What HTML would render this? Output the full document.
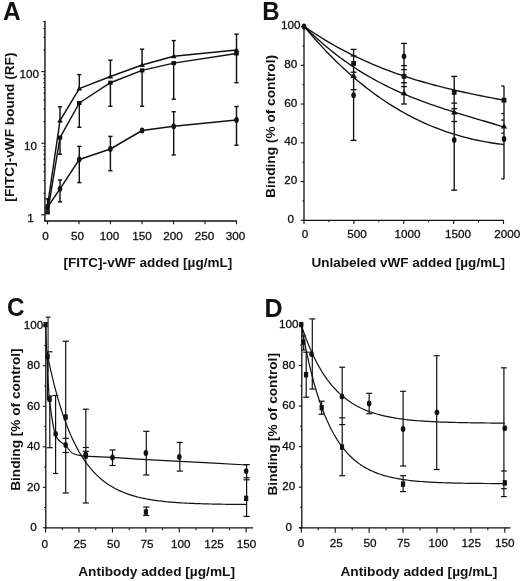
<!DOCTYPE html>
<html><head><meta charset="utf-8"><style>
html,body{margin:0;padding:0;background:#fff;}
svg{display:block;will-change:transform;}
text{font-family:"Liberation Sans",sans-serif;fill:#111;}
</style></head><body>
<svg width="520" height="581" viewBox="0 0 520 581">
<rect width="520" height="581" fill="#fff"/>
<text x="2.89" y="19.60" font-size="25" font-weight="bold" textLength="17.65" lengthAdjust="spacingAndGlyphs">A</text>
<line x1="44.95" y1="20.80" x2="44.95" y2="221.60" stroke="#3a3a3a" stroke-width="1.7"/>
<line x1="44.15" y1="220.90" x2="236.90" y2="220.90" stroke="#111" stroke-width="1.5"/>
<line x1="41.25" y1="214.80" x2="44.95" y2="214.80" stroke="#111" stroke-width="1.1"/>
<line x1="43.35" y1="193.25" x2="44.95" y2="193.25" stroke="#111" stroke-width="1.0"/>
<line x1="43.35" y1="180.64" x2="44.95" y2="180.64" stroke="#111" stroke-width="1.0"/>
<line x1="43.35" y1="171.69" x2="44.95" y2="171.69" stroke="#111" stroke-width="1.0"/>
<line x1="43.35" y1="164.75" x2="44.95" y2="164.75" stroke="#111" stroke-width="1.0"/>
<line x1="43.35" y1="159.08" x2="44.95" y2="159.08" stroke="#111" stroke-width="1.0"/>
<line x1="43.35" y1="154.29" x2="44.95" y2="154.29" stroke="#111" stroke-width="1.0"/>
<line x1="43.35" y1="150.14" x2="44.95" y2="150.14" stroke="#111" stroke-width="1.0"/>
<line x1="43.35" y1="146.48" x2="44.95" y2="146.48" stroke="#111" stroke-width="1.0"/>
<line x1="41.25" y1="143.20" x2="44.95" y2="143.20" stroke="#111" stroke-width="1.1"/>
<line x1="43.35" y1="121.65" x2="44.95" y2="121.65" stroke="#111" stroke-width="1.0"/>
<line x1="43.35" y1="109.04" x2="44.95" y2="109.04" stroke="#111" stroke-width="1.0"/>
<line x1="43.35" y1="100.09" x2="44.95" y2="100.09" stroke="#111" stroke-width="1.0"/>
<line x1="43.35" y1="93.15" x2="44.95" y2="93.15" stroke="#111" stroke-width="1.0"/>
<line x1="43.35" y1="87.48" x2="44.95" y2="87.48" stroke="#111" stroke-width="1.0"/>
<line x1="43.35" y1="82.69" x2="44.95" y2="82.69" stroke="#111" stroke-width="1.0"/>
<line x1="43.35" y1="78.54" x2="44.95" y2="78.54" stroke="#111" stroke-width="1.0"/>
<line x1="43.35" y1="74.88" x2="44.95" y2="74.88" stroke="#111" stroke-width="1.0"/>
<line x1="41.25" y1="71.60" x2="44.95" y2="71.60" stroke="#111" stroke-width="1.1"/>
<line x1="43.35" y1="50.05" x2="44.95" y2="50.05" stroke="#111" stroke-width="1.0"/>
<line x1="43.35" y1="37.44" x2="44.95" y2="37.44" stroke="#111" stroke-width="1.0"/>
<line x1="43.35" y1="28.49" x2="44.95" y2="28.49" stroke="#111" stroke-width="1.0"/>
<line x1="43.35" y1="21.55" x2="44.95" y2="21.55" stroke="#111" stroke-width="1.0"/>
<line x1="47.50" y1="220.90" x2="47.50" y2="224.30" stroke="#111" stroke-width="1.1"/>
<line x1="79.00" y1="220.90" x2="79.00" y2="224.30" stroke="#111" stroke-width="1.1"/>
<line x1="110.50" y1="220.90" x2="110.50" y2="224.30" stroke="#111" stroke-width="1.1"/>
<line x1="142.00" y1="220.90" x2="142.00" y2="224.30" stroke="#111" stroke-width="1.1"/>
<line x1="173.50" y1="220.90" x2="173.50" y2="224.30" stroke="#111" stroke-width="1.1"/>
<line x1="205.00" y1="220.90" x2="205.00" y2="224.30" stroke="#111" stroke-width="1.1"/>
<line x1="236.50" y1="220.90" x2="236.50" y2="224.30" stroke="#111" stroke-width="1.1"/>
<text x="29.30" y="77.80" font-size="11.7" font-weight="normal" text-anchor="middle" stroke="#111" stroke-width="0.3" >100</text>
<text x="30.40" y="149.50" font-size="11.7" font-weight="normal" text-anchor="middle" stroke="#111" stroke-width="0.3" >10</text>
<text x="30.60" y="221.50" font-size="11.7" font-weight="normal" text-anchor="middle" stroke="#111" stroke-width="0.3" >1</text>
<text x="45.40" y="239.80" font-size="11.7" font-weight="normal" text-anchor="middle" stroke="#111" stroke-width="0.3" >0</text>
<text x="77.50" y="239.80" font-size="11.7" font-weight="normal" text-anchor="middle" stroke="#111" stroke-width="0.3" >50</text>
<text x="109.60" y="239.80" font-size="11.7" font-weight="normal" text-anchor="middle" stroke="#111" stroke-width="0.3" >100</text>
<text x="141.90" y="239.80" font-size="11.7" font-weight="normal" text-anchor="middle" stroke="#111" stroke-width="0.3" >150</text>
<text x="173.10" y="239.80" font-size="11.7" font-weight="normal" text-anchor="middle" stroke="#111" stroke-width="0.3" >200</text>
<text x="204.40" y="239.80" font-size="11.7" font-weight="normal" text-anchor="middle" stroke="#111" stroke-width="0.3" >250</text>
<text x="235.60" y="239.80" font-size="11.7" font-weight="normal" text-anchor="middle" stroke="#111" stroke-width="0.3" >300</text>
<text x="63.54" y="267.40" font-size="13.5" font-weight="bold" textLength="168.72" lengthAdjust="spacingAndGlyphs">[FITC]-vWF added [µg/mL]</text>
<text x="0" y="0" font-size="13.5" font-weight="bold" textLength="149.15" lengthAdjust="spacingAndGlyphs" transform="translate(13.60,201.66) rotate(-90)">[FITC]-vWF bound (RF)</text>
<line x1="47.60" y1="198.80" x2="47.60" y2="209.50" stroke="#111" stroke-width="1.45"/>
<line x1="45.30" y1="198.80" x2="49.90" y2="198.80" stroke="#111" stroke-width="1.45"/>
<line x1="45.30" y1="209.50" x2="49.90" y2="209.50" stroke="#111" stroke-width="1.45"/>
<line x1="60.00" y1="106.80" x2="60.00" y2="121.00" stroke="#111" stroke-width="1.45"/>
<line x1="57.90" y1="106.80" x2="62.10" y2="106.80" stroke="#111" stroke-width="1.45"/>
<line x1="60.00" y1="137.70" x2="60.00" y2="154.20" stroke="#111" stroke-width="1.45"/>
<line x1="57.90" y1="154.20" x2="62.10" y2="154.20" stroke="#111" stroke-width="1.45"/>
<line x1="79.30" y1="74.60" x2="79.30" y2="88.70" stroke="#111" stroke-width="1.45"/>
<line x1="77.20" y1="74.60" x2="81.40" y2="74.60" stroke="#111" stroke-width="1.45"/>
<line x1="79.30" y1="103.00" x2="79.30" y2="127.30" stroke="#111" stroke-width="1.45"/>
<line x1="77.20" y1="127.30" x2="81.40" y2="127.30" stroke="#111" stroke-width="1.45"/>
<line x1="110.40" y1="60.20" x2="110.40" y2="76.50" stroke="#111" stroke-width="1.45"/>
<line x1="108.30" y1="60.20" x2="112.50" y2="60.20" stroke="#111" stroke-width="1.45"/>
<line x1="110.40" y1="82.70" x2="110.40" y2="106.30" stroke="#111" stroke-width="1.45"/>
<line x1="108.30" y1="106.30" x2="112.50" y2="106.30" stroke="#111" stroke-width="1.45"/>
<line x1="142.10" y1="49.20" x2="142.10" y2="65.00" stroke="#111" stroke-width="1.45"/>
<line x1="140.00" y1="49.20" x2="144.20" y2="49.20" stroke="#111" stroke-width="1.45"/>
<line x1="142.10" y1="70.40" x2="142.10" y2="106.30" stroke="#111" stroke-width="1.45"/>
<line x1="140.00" y1="106.30" x2="144.20" y2="106.30" stroke="#111" stroke-width="1.45"/>
<line x1="173.70" y1="40.60" x2="173.70" y2="56.30" stroke="#111" stroke-width="1.45"/>
<line x1="171.60" y1="40.60" x2="175.80" y2="40.60" stroke="#111" stroke-width="1.45"/>
<line x1="173.70" y1="63.10" x2="173.70" y2="99.20" stroke="#111" stroke-width="1.45"/>
<line x1="171.60" y1="99.20" x2="175.80" y2="99.20" stroke="#111" stroke-width="1.45"/>
<line x1="236.50" y1="34.20" x2="236.50" y2="50.00" stroke="#111" stroke-width="1.45"/>
<line x1="234.40" y1="34.20" x2="238.60" y2="34.20" stroke="#111" stroke-width="1.45"/>
<line x1="236.50" y1="53.50" x2="236.50" y2="82.70" stroke="#111" stroke-width="1.45"/>
<line x1="234.40" y1="82.70" x2="238.60" y2="82.70" stroke="#111" stroke-width="1.45"/>
<line x1="60.00" y1="180.00" x2="60.00" y2="201.90" stroke="#111" stroke-width="1.45"/>
<line x1="57.90" y1="180.00" x2="62.10" y2="180.00" stroke="#111" stroke-width="1.45"/>
<line x1="57.90" y1="201.90" x2="62.10" y2="201.90" stroke="#111" stroke-width="1.45"/>
<line x1="79.30" y1="146.30" x2="79.30" y2="182.60" stroke="#111" stroke-width="1.45"/>
<line x1="77.20" y1="146.30" x2="81.40" y2="146.30" stroke="#111" stroke-width="1.45"/>
<line x1="77.20" y1="182.60" x2="81.40" y2="182.60" stroke="#111" stroke-width="1.45"/>
<line x1="110.40" y1="136.40" x2="110.40" y2="170.70" stroke="#111" stroke-width="1.45"/>
<line x1="108.30" y1="136.40" x2="112.50" y2="136.40" stroke="#111" stroke-width="1.45"/>
<line x1="108.30" y1="170.70" x2="112.50" y2="170.70" stroke="#111" stroke-width="1.45"/>
<line x1="173.70" y1="111.75" x2="173.70" y2="155.00" stroke="#111" stroke-width="1.45"/>
<line x1="171.60" y1="111.75" x2="175.80" y2="111.75" stroke="#111" stroke-width="1.45"/>
<line x1="171.60" y1="155.00" x2="175.80" y2="155.00" stroke="#111" stroke-width="1.45"/>
<line x1="236.50" y1="106.50" x2="236.50" y2="145.25" stroke="#111" stroke-width="1.45"/>
<line x1="234.40" y1="106.50" x2="238.60" y2="106.50" stroke="#111" stroke-width="1.45"/>
<line x1="234.40" y1="145.25" x2="238.60" y2="145.25" stroke="#111" stroke-width="1.45"/>
<polyline points="47.60,205.40 60.00,120.70 79.30,88.70 110.40,76.50 142.10,65.00 173.70,56.30 236.50,50.00" fill="none" stroke="#111" stroke-width="1.45" stroke-linejoin="round"/>
<polyline points="47.60,212.40 60.00,137.60 79.30,103.00 110.40,82.70 142.10,70.40 173.70,63.10 236.50,53.50" fill="none" stroke="#111" stroke-width="1.45" stroke-linejoin="round"/>
<polyline points="47.60,207.00 60.00,188.80 79.30,159.50 110.40,149.00 142.10,130.50 173.70,126.30 236.50,120.00" fill="none" stroke="#111" stroke-width="1.45" stroke-linejoin="round"/>
<polygon points="47.60,202.54 50.40,207.30 44.80,207.30" fill="#111"/>
<polygon points="60.00,117.84 62.80,122.60 57.20,122.60" fill="#111"/>
<polygon points="79.30,85.84 82.10,90.60 76.50,90.60" fill="#111"/>
<polygon points="110.40,73.64 113.20,78.40 107.60,78.40" fill="#111"/>
<polygon points="142.10,62.14 144.90,66.90 139.30,66.90" fill="#111"/>
<polygon points="173.70,53.44 176.50,58.20 170.90,58.20" fill="#111"/>
<polygon points="236.50,47.14 239.30,51.90 233.70,51.90" fill="#111"/>
<rect x="45.35" y="210.35" width="4.5" height="4.1" fill="#111"/>
<rect x="57.75" y="135.55" width="4.5" height="4.1" fill="#111"/>
<rect x="77.05" y="100.95" width="4.5" height="4.1" fill="#111"/>
<rect x="108.15" y="80.65" width="4.5" height="4.1" fill="#111"/>
<rect x="139.85" y="68.35" width="4.5" height="4.1" fill="#111"/>
<rect x="171.45" y="61.05" width="4.5" height="4.1" fill="#111"/>
<rect x="234.25" y="51.45" width="4.5" height="4.1" fill="#111"/>
<ellipse cx="47.60" cy="207.00" rx="2.30" ry="2.90" fill="#111"/>
<ellipse cx="60.00" cy="188.80" rx="2.30" ry="2.90" fill="#111"/>
<ellipse cx="79.30" cy="159.50" rx="2.30" ry="2.90" fill="#111"/>
<ellipse cx="110.40" cy="149.00" rx="2.30" ry="2.90" fill="#111"/>
<ellipse cx="142.10" cy="130.50" rx="2.30" ry="2.90" fill="#111"/>
<ellipse cx="173.70" cy="126.30" rx="2.30" ry="2.90" fill="#111"/>
<ellipse cx="236.50" cy="120.00" rx="2.30" ry="2.90" fill="#111"/>
<text x="262.19" y="19.90" font-size="25" font-weight="bold" textLength="17.40" lengthAdjust="spacingAndGlyphs">B</text>
<line x1="304.00" y1="26.00" x2="304.00" y2="221.00" stroke="#111" stroke-width="1.3"/>
<line x1="303.40" y1="220.30" x2="503.90" y2="220.30" stroke="#111" stroke-width="1.3"/>
<line x1="300.80" y1="220.30" x2="304.00" y2="220.30" stroke="#111" stroke-width="1.1"/>
<line x1="302.40" y1="200.93" x2="304.00" y2="200.93" stroke="#111" stroke-width="1.0"/>
<line x1="300.80" y1="181.55" x2="304.00" y2="181.55" stroke="#111" stroke-width="1.1"/>
<line x1="302.40" y1="162.18" x2="304.00" y2="162.18" stroke="#111" stroke-width="1.0"/>
<line x1="300.80" y1="142.80" x2="304.00" y2="142.80" stroke="#111" stroke-width="1.1"/>
<line x1="302.40" y1="123.43" x2="304.00" y2="123.43" stroke="#111" stroke-width="1.0"/>
<line x1="300.80" y1="104.05" x2="304.00" y2="104.05" stroke="#111" stroke-width="1.1"/>
<line x1="302.40" y1="84.68" x2="304.00" y2="84.68" stroke="#111" stroke-width="1.0"/>
<line x1="300.80" y1="65.30" x2="304.00" y2="65.30" stroke="#111" stroke-width="1.1"/>
<line x1="302.40" y1="45.93" x2="304.00" y2="45.93" stroke="#111" stroke-width="1.0"/>
<line x1="300.80" y1="26.55" x2="304.00" y2="26.55" stroke="#111" stroke-width="1.1"/>
<line x1="304.00" y1="220.30" x2="304.00" y2="224.00" stroke="#111" stroke-width="1.1"/>
<line x1="328.94" y1="220.30" x2="328.94" y2="222.30" stroke="#111" stroke-width="1.0"/>
<line x1="353.88" y1="220.30" x2="353.88" y2="224.00" stroke="#111" stroke-width="1.1"/>
<line x1="378.81" y1="220.30" x2="378.81" y2="222.30" stroke="#111" stroke-width="1.0"/>
<line x1="403.75" y1="220.30" x2="403.75" y2="224.00" stroke="#111" stroke-width="1.1"/>
<line x1="428.69" y1="220.30" x2="428.69" y2="222.30" stroke="#111" stroke-width="1.0"/>
<line x1="453.62" y1="220.30" x2="453.62" y2="224.00" stroke="#111" stroke-width="1.1"/>
<line x1="478.56" y1="220.30" x2="478.56" y2="222.30" stroke="#111" stroke-width="1.0"/>
<line x1="503.50" y1="220.30" x2="503.50" y2="224.00" stroke="#111" stroke-width="1.1"/>
<text x="290.70" y="222.90" font-size="11.7" font-weight="normal" text-anchor="middle" stroke="#111" stroke-width="0.3" >0</text>
<text x="290.70" y="184.15" font-size="11.7" font-weight="normal" text-anchor="middle" stroke="#111" stroke-width="0.3" >20</text>
<text x="290.70" y="145.40" font-size="11.7" font-weight="normal" text-anchor="middle" stroke="#111" stroke-width="0.3" >40</text>
<text x="290.70" y="106.65" font-size="11.7" font-weight="normal" text-anchor="middle" stroke="#111" stroke-width="0.3" >60</text>
<text x="290.70" y="67.90" font-size="11.7" font-weight="normal" text-anchor="middle" stroke="#111" stroke-width="0.3" >80</text>
<text x="290.70" y="29.15" font-size="11.7" font-weight="normal" text-anchor="middle" stroke="#111" stroke-width="0.3" >100</text>
<text x="305.00" y="238.10" font-size="11.7" font-weight="normal" text-anchor="middle" stroke="#111" stroke-width="0.3" >0</text>
<text x="357.10" y="238.10" font-size="11.7" font-weight="normal" text-anchor="middle" stroke="#111" stroke-width="0.3" >500</text>
<text x="407.60" y="238.10" font-size="11.7" font-weight="normal" text-anchor="middle" stroke="#111" stroke-width="0.3" >1000</text>
<text x="458.00" y="238.10" font-size="11.7" font-weight="normal" text-anchor="middle" stroke="#111" stroke-width="0.3" >1500</text>
<text x="507.30" y="238.10" font-size="11.7" font-weight="normal" text-anchor="middle" stroke="#111" stroke-width="0.3" >2000</text>
<text x="311.49" y="267.30" font-size="13.5" font-weight="bold" textLength="193.47" lengthAdjust="spacingAndGlyphs">Unlabeled vWF added [µg/mL]</text>
<text x="0" y="0" font-size="13.5" font-weight="bold" textLength="143.01" lengthAdjust="spacingAndGlyphs" transform="translate(275.00,197.92) rotate(-90)">Binding (% of control)</text>
<line x1="353.60" y1="49.40" x2="353.60" y2="140.40" stroke="#111" stroke-width="1.35"/>
<line x1="350.70" y1="49.40" x2="356.50" y2="49.40" stroke="#111" stroke-width="1.35"/>
<line x1="350.70" y1="140.40" x2="356.50" y2="140.40" stroke="#111" stroke-width="1.35"/>
<line x1="350.70" y1="55.90" x2="356.50" y2="55.90" stroke="#111" stroke-width="1.35"/>
<line x1="350.70" y1="72.20" x2="356.50" y2="72.20" stroke="#111" stroke-width="1.35"/>
<line x1="350.70" y1="89.70" x2="356.50" y2="89.70" stroke="#111" stroke-width="1.35"/>
<line x1="404.00" y1="43.40" x2="404.00" y2="104.00" stroke="#111" stroke-width="1.35"/>
<line x1="401.10" y1="43.40" x2="406.90" y2="43.40" stroke="#111" stroke-width="1.35"/>
<line x1="401.10" y1="104.00" x2="406.90" y2="104.00" stroke="#111" stroke-width="1.35"/>
<line x1="401.10" y1="65.60" x2="406.90" y2="65.60" stroke="#111" stroke-width="1.35"/>
<line x1="401.10" y1="69.60" x2="406.90" y2="69.60" stroke="#111" stroke-width="1.35"/>
<line x1="401.10" y1="82.70" x2="406.90" y2="82.70" stroke="#111" stroke-width="1.35"/>
<line x1="401.10" y1="86.60" x2="406.90" y2="86.60" stroke="#111" stroke-width="1.35"/>
<line x1="454.20" y1="76.40" x2="454.20" y2="190.20" stroke="#111" stroke-width="1.35"/>
<line x1="451.30" y1="76.40" x2="457.10" y2="76.40" stroke="#111" stroke-width="1.35"/>
<line x1="451.30" y1="190.20" x2="457.10" y2="190.20" stroke="#111" stroke-width="1.35"/>
<line x1="451.30" y1="103.10" x2="457.10" y2="103.10" stroke="#111" stroke-width="1.35"/>
<line x1="451.30" y1="108.70" x2="457.10" y2="108.70" stroke="#111" stroke-width="1.35"/>
<line x1="451.30" y1="121.50" x2="457.10" y2="121.50" stroke="#111" stroke-width="1.35"/>
<line x1="504.00" y1="86.00" x2="504.00" y2="178.90" stroke="#111" stroke-width="1.35"/>
<line x1="501.30" y1="86.00" x2="504.00" y2="86.00" stroke="#111" stroke-width="1.35"/>
<line x1="501.30" y1="113.60" x2="504.00" y2="113.60" stroke="#111" stroke-width="1.35"/>
<line x1="501.30" y1="120.10" x2="504.00" y2="120.10" stroke="#111" stroke-width="1.35"/>
<line x1="501.30" y1="133.20" x2="504.00" y2="133.20" stroke="#111" stroke-width="1.35"/>
<line x1="501.30" y1="178.90" x2="504.00" y2="178.90" stroke="#111" stroke-width="1.35"/>
<polyline points="304.00,26.26 307.33,28.57 310.67,30.83 314.00,33.04 317.33,35.19 320.67,37.30 324.00,39.35 327.33,41.36 330.67,43.32 334.00,45.23 337.33,47.10 340.67,48.92 344.00,50.70 347.33,52.43 350.67,54.13 354.00,55.78 357.33,57.38 360.67,58.95 364.00,60.48 367.33,61.97 370.67,63.43 374.00,64.84 377.33,66.22 380.67,67.57 384.00,68.88 387.33,70.16 390.67,71.40 394.00,72.61 397.33,73.79 400.67,74.95 404.00,76.07 407.33,77.16 410.67,78.23 414.00,79.27 417.33,80.28 420.67,81.27 424.00,82.24 427.33,83.18 430.67,84.10 434.00,84.99 437.33,85.87 440.67,86.72 444.00,87.56 447.33,88.38 450.67,89.18 454.00,89.96 457.33,90.73 460.67,91.48 464.00,92.22 467.33,92.94 470.67,93.65 474.00,94.35 477.33,95.04 480.67,95.72 484.00,96.39 487.33,97.05 490.67,97.70 494.00,98.35 497.33,98.99 500.67,99.63 504.00,100.26" fill="none" stroke="#111" stroke-width="1.35" stroke-linejoin="round"/>
<polyline points="304.00,26.05 307.33,29.37 310.67,32.61 314.00,35.75 317.33,38.81 320.67,41.78 324.00,44.68 327.33,47.49 330.67,50.22 334.00,52.88 337.33,55.46 340.67,57.97 344.00,60.41 347.33,62.78 350.67,65.08 354.00,67.31 357.33,69.48 360.67,71.59 364.00,73.63 367.33,75.61 370.67,77.54 374.00,79.41 377.33,81.23 380.67,82.99 384.00,84.71 387.33,86.37 390.67,87.99 394.00,89.56 397.33,91.09 400.67,92.57 404.00,94.01 407.33,95.42 410.67,96.79 414.00,98.12 417.33,99.42 420.67,100.69 424.00,101.93 427.33,103.14 430.67,104.32 434.00,105.48 437.33,106.61 440.67,107.72 444.00,108.82 447.33,109.89 450.67,110.95 454.00,111.99 457.33,113.03 460.67,114.05 464.00,115.06 467.33,116.06 470.67,117.06 474.00,118.05 477.33,119.04 480.67,120.03 484.00,121.02 487.33,122.01 490.67,123.01 494.00,124.01 497.33,125.03 500.67,126.05 504.00,127.08" fill="none" stroke="#111" stroke-width="1.35" stroke-linejoin="round"/>
<polyline points="304.00,26.24 307.33,30.23 310.67,34.13 314.00,37.94 317.33,41.68 320.67,45.34 324.00,48.91 327.33,52.41 330.67,55.83 334.00,59.17 337.33,62.43 340.67,65.62 344.00,68.74 347.33,71.77 350.67,74.74 354.00,77.63 357.33,80.45 360.67,83.20 364.00,85.88 367.33,88.48 370.67,91.02 374.00,93.49 377.33,95.90 380.67,98.23 384.00,100.50 387.33,102.71 390.67,104.84 394.00,106.92 397.33,108.93 400.67,110.88 404.00,112.77 407.33,114.60 410.67,116.37 414.00,118.07 417.33,119.72 420.67,121.32 424.00,122.85 427.33,124.33 430.67,125.75 434.00,127.12 437.33,128.43 440.67,129.69 444.00,130.90 447.33,132.06 450.67,133.16 454.00,134.22 457.33,135.22 460.67,136.18 464.00,137.09 467.33,137.95 470.67,138.77 474.00,139.54 477.33,140.26 480.67,140.94 484.00,141.58 487.33,142.17 490.67,142.72 494.00,143.24 497.33,143.71 500.67,144.14 504.00,144.53" fill="none" stroke="#111" stroke-width="1.35" stroke-linejoin="round"/>
<ellipse cx="304.00" cy="26.50" rx="2.39" ry="3.02" fill="#111"/>
<rect x="351.20" y="61.10" width="4.8" height="4.8" fill="#111"/>
<rect x="401.60" y="73.90" width="4.8" height="4.8" fill="#111"/>
<rect x="451.80" y="90.00" width="4.8" height="4.8" fill="#111"/>
<rect x="501.60" y="97.80" width="4.8" height="4.8" fill="#111"/>
<polygon points="353.60,72.54 356.80,77.98 350.40,77.98" fill="#111"/>
<polygon points="404.00,89.84 407.20,95.28 400.80,95.28" fill="#111"/>
<polygon points="454.20,109.04 457.40,114.48 451.00,114.48" fill="#111"/>
<polygon points="504.00,123.14 507.20,128.58 500.80,128.58" fill="#111"/>
<ellipse cx="353.60" cy="95.20" rx="2.30" ry="2.90" fill="#111"/>
<ellipse cx="404.00" cy="56.30" rx="2.30" ry="2.90" fill="#111"/>
<ellipse cx="454.20" cy="139.90" rx="2.30" ry="2.90" fill="#111"/>
<ellipse cx="504.00" cy="139.00" rx="2.30" ry="2.90" fill="#111"/>
<text x="7.06" y="316.10" font-size="25" font-weight="bold" textLength="17.50" lengthAdjust="spacingAndGlyphs">C</text>
<line x1="45.80" y1="324.00" x2="45.80" y2="528.50" stroke="#111" stroke-width="1.3"/>
<line x1="45.20" y1="527.80" x2="253.10" y2="527.80" stroke="#111" stroke-width="1.3"/>
<line x1="42.80" y1="527.80" x2="45.80" y2="527.80" stroke="#111" stroke-width="1.1"/>
<line x1="44.20" y1="507.54" x2="45.80" y2="507.54" stroke="#111" stroke-width="1.0"/>
<line x1="42.80" y1="487.28" x2="45.80" y2="487.28" stroke="#111" stroke-width="1.1"/>
<line x1="44.20" y1="467.02" x2="45.80" y2="467.02" stroke="#111" stroke-width="1.0"/>
<line x1="42.80" y1="446.76" x2="45.80" y2="446.76" stroke="#111" stroke-width="1.1"/>
<line x1="44.20" y1="426.50" x2="45.80" y2="426.50" stroke="#111" stroke-width="1.0"/>
<line x1="42.80" y1="406.24" x2="45.80" y2="406.24" stroke="#111" stroke-width="1.1"/>
<line x1="44.20" y1="385.98" x2="45.80" y2="385.98" stroke="#111" stroke-width="1.0"/>
<line x1="42.80" y1="365.72" x2="45.80" y2="365.72" stroke="#111" stroke-width="1.1"/>
<line x1="44.20" y1="345.46" x2="45.80" y2="345.46" stroke="#111" stroke-width="1.0"/>
<line x1="42.80" y1="325.20" x2="45.80" y2="325.20" stroke="#111" stroke-width="1.1"/>
<line x1="45.60" y1="527.80" x2="45.60" y2="532.50" stroke="#111" stroke-width="1.1"/>
<line x1="62.31" y1="527.80" x2="62.31" y2="530.20" stroke="#111" stroke-width="1.0"/>
<line x1="79.03" y1="527.80" x2="79.03" y2="532.50" stroke="#111" stroke-width="1.1"/>
<line x1="95.74" y1="527.80" x2="95.74" y2="530.20" stroke="#111" stroke-width="1.0"/>
<line x1="112.45" y1="527.80" x2="112.45" y2="532.50" stroke="#111" stroke-width="1.1"/>
<line x1="129.16" y1="527.80" x2="129.16" y2="530.20" stroke="#111" stroke-width="1.0"/>
<line x1="145.88" y1="527.80" x2="145.88" y2="532.50" stroke="#111" stroke-width="1.1"/>
<line x1="162.59" y1="527.80" x2="162.59" y2="530.20" stroke="#111" stroke-width="1.0"/>
<line x1="179.30" y1="527.80" x2="179.30" y2="532.50" stroke="#111" stroke-width="1.1"/>
<line x1="196.01" y1="527.80" x2="196.01" y2="530.20" stroke="#111" stroke-width="1.0"/>
<line x1="212.72" y1="527.80" x2="212.72" y2="532.50" stroke="#111" stroke-width="1.1"/>
<line x1="229.44" y1="527.80" x2="229.44" y2="530.20" stroke="#111" stroke-width="1.0"/>
<line x1="246.15" y1="527.80" x2="246.15" y2="532.50" stroke="#111" stroke-width="1.1"/>
<text x="33.40" y="531.40" font-size="11.7" font-weight="normal" text-anchor="middle" stroke="#111" stroke-width="0.3" >0</text>
<text x="33.40" y="490.88" font-size="11.7" font-weight="normal" text-anchor="middle" stroke="#111" stroke-width="0.3" >20</text>
<text x="33.40" y="450.36" font-size="11.7" font-weight="normal" text-anchor="middle" stroke="#111" stroke-width="0.3" >40</text>
<text x="33.40" y="409.84" font-size="11.7" font-weight="normal" text-anchor="middle" stroke="#111" stroke-width="0.3" >60</text>
<text x="33.40" y="369.32" font-size="11.7" font-weight="normal" text-anchor="middle" stroke="#111" stroke-width="0.3" >80</text>
<text x="33.40" y="328.80" font-size="11.7" font-weight="normal" text-anchor="middle" stroke="#111" stroke-width="0.3" >100</text>
<text x="44.75" y="547.50" font-size="11.7" font-weight="normal" text-anchor="middle" stroke="#111" stroke-width="0.3" >0</text>
<text x="80.00" y="547.50" font-size="11.7" font-weight="normal" text-anchor="middle" stroke="#111" stroke-width="0.3" >25</text>
<text x="113.50" y="547.50" font-size="11.7" font-weight="normal" text-anchor="middle" stroke="#111" stroke-width="0.3" >50</text>
<text x="147.10" y="547.50" font-size="11.7" font-weight="normal" text-anchor="middle" stroke="#111" stroke-width="0.3" >75</text>
<text x="180.80" y="547.50" font-size="11.7" font-weight="normal" text-anchor="middle" stroke="#111" stroke-width="0.3" >100</text>
<text x="213.90" y="547.50" font-size="11.7" font-weight="normal" text-anchor="middle" stroke="#111" stroke-width="0.3" >125</text>
<text x="246.60" y="547.50" font-size="11.7" font-weight="normal" text-anchor="middle" stroke="#111" stroke-width="0.3" >150</text>
<text x="78.16" y="576.20" font-size="13.5" font-weight="bold" textLength="156.81" lengthAdjust="spacingAndGlyphs">Antibody added [µg/mL]</text>
<text x="0" y="0" font-size="13.5" font-weight="bold" textLength="142.48" lengthAdjust="spacingAndGlyphs" transform="translate(19.90,490.81) rotate(-90)">Binding [% of control]</text>
<line x1="48.10" y1="317.20" x2="48.10" y2="372.00" stroke="#444" stroke-width="1.3"/>
<line x1="45.70" y1="317.20" x2="50.50" y2="317.20" stroke="#111" stroke-width="1.2"/>
<line x1="47.60" y1="352.00" x2="47.60" y2="400.00" stroke="#111" stroke-width="1.2"/>
<line x1="47.60" y1="351.80" x2="52.50" y2="351.80" stroke="#111" stroke-width="1.2"/>
<line x1="49.80" y1="396.00" x2="49.80" y2="447.70" stroke="#111" stroke-width="1.2"/>
<line x1="46.80" y1="396.00" x2="52.80" y2="396.00" stroke="#111" stroke-width="1.2"/>
<line x1="46.80" y1="447.70" x2="52.80" y2="447.70" stroke="#111" stroke-width="1.2"/>
<line x1="55.60" y1="395.50" x2="55.60" y2="473.50" stroke="#111" stroke-width="1.2"/>
<line x1="53.00" y1="395.50" x2="58.20" y2="395.50" stroke="#111" stroke-width="1.2"/>
<line x1="53.00" y1="473.50" x2="58.20" y2="473.50" stroke="#111" stroke-width="1.2"/>
<line x1="65.70" y1="341.20" x2="65.70" y2="493.00" stroke="#111" stroke-width="1.2"/>
<line x1="62.60" y1="341.20" x2="68.80" y2="341.20" stroke="#111" stroke-width="1.2"/>
<line x1="62.60" y1="493.00" x2="68.80" y2="493.00" stroke="#111" stroke-width="1.2"/>
<line x1="62.60" y1="438.30" x2="68.80" y2="438.30" stroke="#111" stroke-width="1.2"/>
<line x1="62.60" y1="452.50" x2="68.80" y2="452.50" stroke="#111" stroke-width="1.2"/>
<line x1="85.80" y1="409.20" x2="85.80" y2="503.00" stroke="#111" stroke-width="1.2"/>
<line x1="82.70" y1="409.20" x2="88.90" y2="409.20" stroke="#111" stroke-width="1.2"/>
<line x1="82.70" y1="503.00" x2="88.90" y2="503.00" stroke="#111" stroke-width="1.2"/>
<line x1="82.70" y1="447.50" x2="88.90" y2="447.50" stroke="#111" stroke-width="1.2"/>
<line x1="82.70" y1="451.30" x2="88.90" y2="451.30" stroke="#111" stroke-width="1.2"/>
<line x1="112.50" y1="450.00" x2="112.50" y2="465.50" stroke="#111" stroke-width="1.2"/>
<line x1="109.40" y1="450.00" x2="115.60" y2="450.00" stroke="#111" stroke-width="1.2"/>
<line x1="109.40" y1="465.50" x2="115.60" y2="465.50" stroke="#111" stroke-width="1.2"/>
<line x1="146.30" y1="431.30" x2="146.30" y2="475.00" stroke="#111" stroke-width="1.2"/>
<line x1="143.20" y1="431.30" x2="149.40" y2="431.30" stroke="#111" stroke-width="1.2"/>
<line x1="143.20" y1="475.00" x2="149.40" y2="475.00" stroke="#111" stroke-width="1.2"/>
<line x1="146.30" y1="507.00" x2="146.30" y2="515.50" stroke="#111" stroke-width="1.2"/>
<line x1="143.20" y1="507.00" x2="149.40" y2="507.00" stroke="#111" stroke-width="1.2"/>
<line x1="143.20" y1="515.50" x2="149.40" y2="515.50" stroke="#111" stroke-width="1.2"/>
<line x1="179.80" y1="442.40" x2="179.80" y2="471.10" stroke="#111" stroke-width="1.2"/>
<line x1="176.70" y1="442.40" x2="182.90" y2="442.40" stroke="#111" stroke-width="1.2"/>
<line x1="176.70" y1="471.10" x2="182.90" y2="471.10" stroke="#111" stroke-width="1.2"/>
<line x1="246.60" y1="464.60" x2="246.60" y2="516.40" stroke="#111" stroke-width="1.2"/>
<line x1="243.50" y1="464.60" x2="249.70" y2="464.60" stroke="#111" stroke-width="1.2"/>
<line x1="243.50" y1="516.40" x2="249.70" y2="516.40" stroke="#111" stroke-width="1.2"/>
<line x1="243.50" y1="477.80" x2="249.70" y2="477.80" stroke="#111" stroke-width="1.2"/>
<line x1="243.50" y1="479.80" x2="249.70" y2="479.80" stroke="#111" stroke-width="1.2"/>
<path d="M45.60,325.20 C45.93,332.43 46.93,356.10 47.60,368.60 C48.27,381.10 48.30,389.18 49.60,400.20 C50.90,411.22 52.73,427.15 55.40,434.70 C58.07,442.25 62.90,442.52 65.60,445.50 C68.30,448.48 69.87,451.10 71.60,452.60 C73.33,454.10 74.55,454.03 76.00,454.50 C77.45,454.97 78.68,455.13 80.30,455.40 C81.92,455.67 80.33,455.78 85.70,456.10 C91.07,456.42 102.40,456.72 112.50,457.30 C122.60,457.88 133.38,458.83 146.30,459.60 C159.22,460.37 173.28,461.00 190.00,461.90 C206.72,462.80 237.17,464.48 246.60,465.00" fill="none" stroke="#111" stroke-width="1.2"/>
<polyline points="47.61,355.70 49.26,363.59 50.91,371.06 52.57,378.13 54.22,384.83 55.88,391.18 57.53,397.19 59.19,402.88 60.84,408.27 62.50,413.38 64.15,418.21 65.81,422.79 67.46,427.13 69.11,431.24 70.77,435.13 72.42,438.81 74.08,442.30 75.73,445.60 77.39,448.73 79.04,451.69 80.70,454.50 82.35,457.16 84.01,459.68 85.66,462.06 87.31,464.32 88.97,466.46 90.62,468.48 92.28,470.40 93.93,472.21 95.59,473.93 97.24,475.56 98.90,477.11 100.55,478.57 102.21,479.95 103.86,481.26 105.51,482.50 107.17,483.68 108.82,484.79 110.48,485.85 112.13,486.84 113.79,487.79 115.44,488.68 117.10,489.53 118.75,490.34 120.41,491.10 122.06,491.82 123.71,492.50 125.37,493.15 127.02,493.76 128.68,494.34 130.33,494.89 131.99,495.41 133.64,495.90 135.30,496.36 136.95,496.81 138.61,497.22 140.26,497.62 141.91,497.99 143.57,498.35 145.22,498.69 146.88,499.00 148.53,499.31 150.19,499.59 151.84,499.86 153.50,500.12 155.15,500.36 156.80,500.59 158.46,500.81 160.11,501.02 161.77,501.21 163.42,501.40 165.08,501.57 166.73,501.74 168.39,501.89 170.04,502.04 171.70,502.18 173.35,502.32 175.00,502.44 176.66,502.56 178.31,502.68 179.97,502.78 181.62,502.89 183.28,502.98 184.93,503.07 186.59,503.16 188.24,503.24 189.90,503.32 191.55,503.39 193.20,503.46 194.86,503.53 196.51,503.59 198.17,503.65 199.82,503.70 201.48,503.76 203.13,503.81 204.79,503.85 206.44,503.90 208.10,503.94 209.75,503.98 211.40,504.02 213.06,504.06 214.71,504.09 216.37,504.12 218.02,504.15 219.68,504.18 221.33,504.21 222.99,504.24 224.64,504.26 226.30,504.28 227.95,504.31 229.60,504.33 231.26,504.35 232.91,504.37 234.57,504.38 236.22,504.40 237.88,504.42 239.53,504.43 241.19,504.45 242.84,504.46 244.50,504.47 246.15,504.49" fill="none" stroke="#111" stroke-width="1.2" stroke-linejoin="round"/>
<rect x="43.50" y="321.90" width="4.2" height="5.4" fill="#111"/>
<rect x="45.51" y="353.70" width="4.2" height="5.4" fill="#111"/>
<rect x="47.51" y="396.50" width="4.2" height="5.4" fill="#111"/>
<rect x="63.55" y="414.30" width="4.2" height="5.4" fill="#111"/>
<rect x="83.61" y="453.30" width="4.2" height="5.4" fill="#111"/>
<rect x="143.78" y="509.30" width="4.2" height="5.4" fill="#111"/>
<rect x="244.05" y="495.60" width="4.2" height="5.4" fill="#111"/>
<ellipse cx="55.63" cy="433.80" rx="2.30" ry="2.90" fill="#111"/>
<ellipse cx="65.66" cy="445.00" rx="2.30" ry="2.90" fill="#111"/>
<ellipse cx="85.71" cy="454.50" rx="2.30" ry="2.90" fill="#111"/>
<ellipse cx="112.45" cy="457.50" rx="2.30" ry="2.90" fill="#111"/>
<ellipse cx="145.88" cy="453.00" rx="2.30" ry="2.90" fill="#111"/>
<ellipse cx="179.30" cy="456.90" rx="2.30" ry="2.90" fill="#111"/>
<ellipse cx="246.15" cy="471.10" rx="2.30" ry="2.90" fill="#111"/>
<text x="264.42" y="317.20" font-size="25" font-weight="bold" textLength="18.08" lengthAdjust="spacingAndGlyphs">D</text>
<line x1="301.80" y1="324.00" x2="301.80" y2="528.50" stroke="#111" stroke-width="1.3"/>
<line x1="299.20" y1="527.80" x2="510.50" y2="527.80" stroke="#111" stroke-width="1.3"/>
<line x1="298.80" y1="527.70" x2="301.80" y2="527.70" stroke="#111" stroke-width="1.1"/>
<line x1="300.20" y1="507.43" x2="301.80" y2="507.43" stroke="#111" stroke-width="1.0"/>
<line x1="298.80" y1="487.15" x2="301.80" y2="487.15" stroke="#111" stroke-width="1.1"/>
<line x1="300.20" y1="466.88" x2="301.80" y2="466.88" stroke="#111" stroke-width="1.0"/>
<line x1="298.80" y1="446.60" x2="301.80" y2="446.60" stroke="#111" stroke-width="1.1"/>
<line x1="300.20" y1="426.33" x2="301.80" y2="426.33" stroke="#111" stroke-width="1.0"/>
<line x1="298.80" y1="406.05" x2="301.80" y2="406.05" stroke="#111" stroke-width="1.1"/>
<line x1="300.20" y1="385.78" x2="301.80" y2="385.78" stroke="#111" stroke-width="1.0"/>
<line x1="298.80" y1="365.50" x2="301.80" y2="365.50" stroke="#111" stroke-width="1.1"/>
<line x1="300.20" y1="345.23" x2="301.80" y2="345.23" stroke="#111" stroke-width="1.0"/>
<line x1="298.80" y1="324.95" x2="301.80" y2="324.95" stroke="#111" stroke-width="1.1"/>
<line x1="301.30" y1="527.80" x2="301.30" y2="532.80" stroke="#111" stroke-width="1.1"/>
<line x1="318.26" y1="527.80" x2="318.26" y2="530.40" stroke="#111" stroke-width="1.0"/>
<line x1="335.22" y1="527.80" x2="335.22" y2="532.80" stroke="#111" stroke-width="1.1"/>
<line x1="352.18" y1="527.80" x2="352.18" y2="530.40" stroke="#111" stroke-width="1.0"/>
<line x1="369.13" y1="527.80" x2="369.13" y2="532.80" stroke="#111" stroke-width="1.1"/>
<line x1="386.09" y1="527.80" x2="386.09" y2="530.40" stroke="#111" stroke-width="1.0"/>
<line x1="403.05" y1="527.80" x2="403.05" y2="532.80" stroke="#111" stroke-width="1.1"/>
<line x1="420.01" y1="527.80" x2="420.01" y2="530.40" stroke="#111" stroke-width="1.0"/>
<line x1="436.97" y1="527.80" x2="436.97" y2="532.80" stroke="#111" stroke-width="1.1"/>
<line x1="453.93" y1="527.80" x2="453.93" y2="530.40" stroke="#111" stroke-width="1.0"/>
<line x1="470.89" y1="527.80" x2="470.89" y2="532.80" stroke="#111" stroke-width="1.1"/>
<line x1="487.85" y1="527.80" x2="487.85" y2="530.40" stroke="#111" stroke-width="1.0"/>
<line x1="504.81" y1="527.80" x2="504.81" y2="532.80" stroke="#111" stroke-width="1.1"/>
<text x="288.80" y="530.90" font-size="11.7" font-weight="normal" text-anchor="middle" stroke="#111" stroke-width="0.3" >0</text>
<text x="288.80" y="490.35" font-size="11.7" font-weight="normal" text-anchor="middle" stroke="#111" stroke-width="0.3" >20</text>
<text x="288.80" y="449.80" font-size="11.7" font-weight="normal" text-anchor="middle" stroke="#111" stroke-width="0.3" >40</text>
<text x="288.80" y="409.25" font-size="11.7" font-weight="normal" text-anchor="middle" stroke="#111" stroke-width="0.3" >60</text>
<text x="288.80" y="368.70" font-size="11.7" font-weight="normal" text-anchor="middle" stroke="#111" stroke-width="0.3" >80</text>
<text x="288.80" y="328.15" font-size="11.7" font-weight="normal" text-anchor="middle" stroke="#111" stroke-width="0.3" >100</text>
<text x="300.90" y="547.00" font-size="11.7" font-weight="normal" text-anchor="middle" stroke="#111" stroke-width="0.3" >0</text>
<text x="336.25" y="547.00" font-size="11.7" font-weight="normal" text-anchor="middle" stroke="#111" stroke-width="0.3" >25</text>
<text x="370.00" y="547.00" font-size="11.7" font-weight="normal" text-anchor="middle" stroke="#111" stroke-width="0.3" >50</text>
<text x="403.50" y="547.00" font-size="11.7" font-weight="normal" text-anchor="middle" stroke="#111" stroke-width="0.3" >75</text>
<text x="438.20" y="547.00" font-size="11.7" font-weight="normal" text-anchor="middle" stroke="#111" stroke-width="0.3" >100</text>
<text x="471.30" y="547.00" font-size="11.7" font-weight="normal" text-anchor="middle" stroke="#111" stroke-width="0.3" >125</text>
<text x="504.70" y="547.00" font-size="11.7" font-weight="normal" text-anchor="middle" stroke="#111" stroke-width="0.3" >150</text>
<text x="340.46" y="575.80" font-size="13.5" font-weight="bold" textLength="156.81" lengthAdjust="spacingAndGlyphs">Antibody added [µg/mL]</text>
<text x="0" y="0" font-size="13.5" font-weight="bold" textLength="142.48" lengthAdjust="spacingAndGlyphs" transform="translate(277.00,495.51) rotate(-90)">Binding [% of control]</text>
<line x1="303.70" y1="336.00" x2="303.70" y2="350.00" stroke="#111" stroke-width="1.2"/>
<line x1="301.30" y1="336.00" x2="306.10" y2="336.00" stroke="#111" stroke-width="1.2"/>
<line x1="301.30" y1="350.00" x2="306.10" y2="350.00" stroke="#111" stroke-width="1.2"/>
<line x1="306.20" y1="352.20" x2="306.20" y2="397.20" stroke="#111" stroke-width="1.2"/>
<line x1="303.20" y1="352.20" x2="309.20" y2="352.20" stroke="#111" stroke-width="1.2"/>
<line x1="303.20" y1="397.20" x2="309.20" y2="397.20" stroke="#111" stroke-width="1.2"/>
<line x1="312.30" y1="318.90" x2="312.30" y2="389.00" stroke="#111" stroke-width="1.2"/>
<line x1="309.30" y1="318.90" x2="315.30" y2="318.90" stroke="#111" stroke-width="1.2"/>
<line x1="309.30" y1="389.00" x2="315.30" y2="389.00" stroke="#111" stroke-width="1.2"/>
<line x1="321.60" y1="401.20" x2="321.60" y2="414.20" stroke="#111" stroke-width="1.2"/>
<line x1="318.60" y1="401.20" x2="324.60" y2="401.20" stroke="#111" stroke-width="1.2"/>
<line x1="318.60" y1="414.20" x2="324.60" y2="414.20" stroke="#111" stroke-width="1.2"/>
<line x1="342.20" y1="367.20" x2="342.20" y2="475.70" stroke="#111" stroke-width="1.2"/>
<line x1="339.20" y1="367.20" x2="345.20" y2="367.20" stroke="#111" stroke-width="1.2"/>
<line x1="339.20" y1="475.70" x2="345.20" y2="475.70" stroke="#111" stroke-width="1.2"/>
<line x1="339.20" y1="417.80" x2="345.20" y2="417.80" stroke="#111" stroke-width="1.2"/>
<line x1="339.20" y1="424.60" x2="345.20" y2="424.60" stroke="#111" stroke-width="1.2"/>
<line x1="369.20" y1="393.30" x2="369.20" y2="413.70" stroke="#111" stroke-width="1.2"/>
<line x1="366.20" y1="393.30" x2="372.20" y2="393.30" stroke="#111" stroke-width="1.2"/>
<line x1="366.20" y1="413.70" x2="372.20" y2="413.70" stroke="#111" stroke-width="1.2"/>
<line x1="403.10" y1="391.30" x2="403.10" y2="466.00" stroke="#111" stroke-width="1.2"/>
<line x1="400.10" y1="391.30" x2="406.10" y2="391.30" stroke="#111" stroke-width="1.2"/>
<line x1="400.10" y1="466.00" x2="406.10" y2="466.00" stroke="#111" stroke-width="1.2"/>
<line x1="403.10" y1="475.70" x2="403.10" y2="491.60" stroke="#111" stroke-width="1.2"/>
<line x1="400.10" y1="475.70" x2="406.10" y2="475.70" stroke="#111" stroke-width="1.2"/>
<line x1="400.10" y1="491.60" x2="406.10" y2="491.60" stroke="#111" stroke-width="1.2"/>
<line x1="436.70" y1="355.70" x2="436.70" y2="469.50" stroke="#111" stroke-width="1.2"/>
<line x1="433.70" y1="355.70" x2="439.70" y2="355.70" stroke="#111" stroke-width="1.2"/>
<line x1="433.70" y1="469.50" x2="439.70" y2="469.50" stroke="#111" stroke-width="1.2"/>
<line x1="503.90" y1="367.80" x2="503.90" y2="496.60" stroke="#111" stroke-width="1.2"/>
<line x1="501.00" y1="367.80" x2="506.80" y2="367.80" stroke="#111" stroke-width="1.2"/>
<line x1="501.00" y1="496.60" x2="506.80" y2="496.60" stroke="#111" stroke-width="1.2"/>
<line x1="501.00" y1="471.00" x2="506.80" y2="471.00" stroke="#111" stroke-width="1.2"/>
<line x1="501.00" y1="488.70" x2="506.80" y2="488.70" stroke="#111" stroke-width="1.2"/>
<polyline points="301.30,324.95 303.84,332.46 306.39,339.40 308.93,345.80 311.48,351.72 314.02,357.19 316.56,362.24 319.11,366.90 321.65,371.20 324.19,375.18 326.74,378.86 329.28,382.25 331.83,385.38 334.37,388.28 336.91,390.95 339.46,393.42 342.00,395.70 344.54,397.81 347.09,399.75 349.63,401.55 352.18,403.21 354.72,404.74 357.26,406.16 359.81,407.47 362.35,408.68 364.90,409.79 367.44,410.82 369.98,411.77 372.53,412.65 375.07,413.46 377.61,414.21 380.16,414.91 382.70,415.55 385.25,416.14 387.79,416.68 390.33,417.19 392.88,417.65 395.42,418.08 397.96,418.48 400.51,418.85 403.05,419.19 405.60,419.50 408.14,419.79 410.68,420.06 413.23,420.30 415.77,420.53 418.32,420.74 420.86,420.93 423.40,421.11 425.95,421.28 428.49,421.43 431.03,421.57 433.58,421.70 436.12,421.83 438.67,421.94 441.21,422.04 443.75,422.13 446.30,422.22 448.84,422.30 451.38,422.38 453.93,422.45 456.47,422.51 459.02,422.57 461.56,422.62 464.10,422.68 466.65,422.72 469.19,422.76 471.74,422.80 474.28,422.84 476.82,422.87 479.37,422.91 481.91,422.93 484.45,422.96 487.00,422.99 489.54,423.01 492.09,423.03 494.63,423.05 497.17,423.07 499.72,423.08 502.26,423.10 504.81,423.11" fill="none" stroke="#111" stroke-width="1.2" stroke-linejoin="round"/>
<polyline points="301.30,324.95 303.84,338.76 306.39,351.37 308.93,362.88 311.48,373.40 314.02,382.99 316.56,391.75 319.11,399.75 321.65,407.06 324.19,413.73 326.74,419.81 329.28,425.37 331.83,430.45 334.37,435.08 336.91,439.31 339.46,443.17 342.00,446.70 344.54,449.92 347.09,452.86 349.63,455.54 352.18,457.99 354.72,460.23 357.26,462.27 359.81,464.14 362.35,465.84 364.90,467.39 367.44,468.81 369.98,470.11 372.53,471.29 375.07,472.37 377.61,473.36 380.16,474.26 382.70,475.08 385.25,475.83 387.79,476.51 390.33,477.14 392.88,477.71 395.42,478.23 397.96,478.71 400.51,479.14 403.05,479.54 405.60,479.90 408.14,480.23 410.68,480.53 413.23,480.81 415.77,481.06 418.32,481.29 420.86,481.50 423.40,481.69 425.95,481.87 428.49,482.03 431.03,482.17 433.58,482.31 436.12,482.43 438.67,482.54 441.21,482.64 443.75,482.73 446.30,482.82 448.84,482.89 451.38,482.96 453.93,483.03 456.47,483.09 459.02,483.14 461.56,483.19 464.10,483.23 466.65,483.28 469.19,483.31 471.74,483.35 474.28,483.38 476.82,483.41 479.37,483.43 481.91,483.46 484.45,483.48 487.00,483.50 489.54,483.51 492.09,483.53 494.63,483.55 497.17,483.56 499.72,483.57 502.26,483.58 504.81,483.59" fill="none" stroke="#111" stroke-width="1.2" stroke-linejoin="round"/>
<rect x="299.20" y="321.90" width="4.2" height="5.4" fill="#111"/>
<rect x="301.24" y="339.30" width="4.2" height="5.4" fill="#111"/>
<rect x="303.95" y="372.00" width="4.2" height="5.4" fill="#111"/>
<rect x="319.55" y="405.00" width="4.2" height="5.4" fill="#111"/>
<rect x="339.90" y="444.30" width="4.2" height="5.4" fill="#111"/>
<rect x="400.95" y="481.40" width="4.2" height="5.4" fill="#111"/>
<rect x="502.70" y="480.20" width="4.2" height="5.4" fill="#111"/>
<ellipse cx="311.48" cy="354.00" rx="2.30" ry="2.90" fill="#111"/>
<ellipse cx="342.00" cy="396.40" rx="2.30" ry="2.90" fill="#111"/>
<ellipse cx="369.13" cy="403.40" rx="2.30" ry="2.90" fill="#111"/>
<ellipse cx="403.05" cy="428.90" rx="2.30" ry="2.90" fill="#111"/>
<ellipse cx="436.97" cy="412.30" rx="2.30" ry="2.90" fill="#111"/>
<ellipse cx="504.81" cy="428.20" rx="2.30" ry="2.90" fill="#111"/>
</svg>
</body></html>
